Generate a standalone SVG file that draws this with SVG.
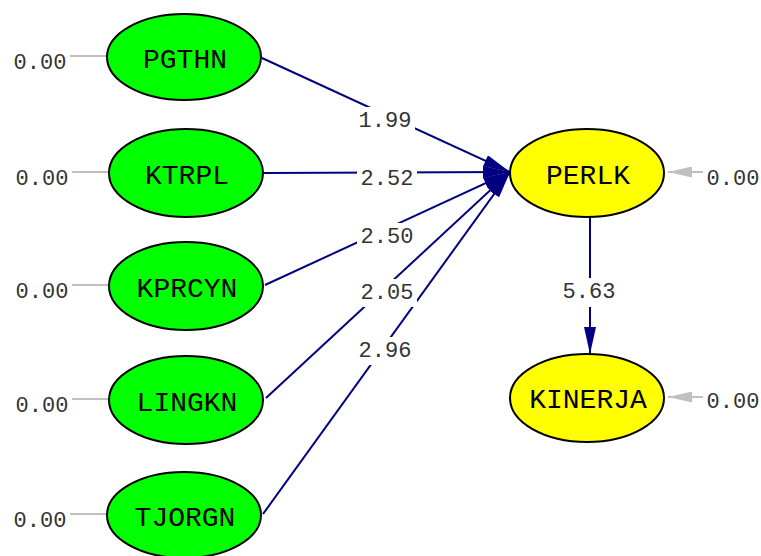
<svg xmlns="http://www.w3.org/2000/svg" width="761" height="556" viewBox="0 0 761 556">
<style>
.node ellipse{stroke:#000;stroke-width:2}
.exo{fill:#00ff00}
.endo{fill:#ffff00}
.nl{font-family:"Liberation Mono","Courier New",monospace;font-size:28px;fill:#000;text-anchor:middle}
.num{font-family:"Liberation Mono","Courier New",monospace;font-size:22px;fill:#333;text-anchor:middle}
.path{stroke:#000080;stroke-width:2;fill:none}
.err{stroke:#c0c0c0;stroke-width:2;fill:none}
.bg{fill:#fff}
</style>
<defs>
<marker id="ah" markerUnits="userSpaceOnUse" markerWidth="28" markerHeight="12" refX="27" refY="6" orient="auto"><path d="M0,0 L27,6 L0,12 Z" fill="#000080"/></marker>
<marker id="eh" markerUnits="userSpaceOnUse" markerWidth="25" markerHeight="11" refX="24" refY="5.5" orient="auto"><path d="M0,0 L24,5.5 L0,11 Z" fill="#c0c0c0"/></marker>
</defs>
<g id="connectors">
<line class="err" x1="70" y1="56" x2="107" y2="56"/>
<line class="err" x1="72" y1="172" x2="109" y2="172"/>
<line class="err" x1="72" y1="285" x2="109" y2="285"/>
<line class="err" x1="72" y1="399" x2="109" y2="399"/>
<line class="err" x1="70" y1="514" x2="107" y2="514"/>
<line class="err" x1="703" y1="172" x2="668" y2="172" marker-end="url(#eh)"/>
<line class="err" x1="703" y1="397" x2="668" y2="397" marker-end="url(#eh)"/>
<text class="num" x="40" y="69">0.00</text>
<text class="num" x="42" y="185">0.00</text>
<text class="num" x="42" y="298">0.00</text>
<text class="num" x="42" y="412">0.00</text>
<text class="num" x="40" y="527">0.00</text>
<text class="num" x="733" y="185">0.00</text>
<text class="num" x="733" y="408">0.00</text>
<line class="path" x1="262" y1="58" x2="510" y2="172" marker-end="url(#ah)"/>
<line class="path" x1="264" y1="173" x2="510" y2="172" marker-end="url(#ah)"/>
<line class="path" x1="265" y1="285" x2="510" y2="172" marker-end="url(#ah)"/>
<line class="path" x1="266" y1="398" x2="510" y2="172" marker-end="url(#ah)"/>
<line class="path" x1="263" y1="514" x2="510" y2="172" marker-end="url(#ah)"/>
<line class="path" x1="590" y1="217" x2="590" y2="354" marker-end="url(#ah)"/>
<rect class="bg" x="355" y="107" width="60" height="28"/>
<text class="num" x="385" y="127">1.99</text>
<rect class="bg" x="357" y="165" width="60" height="28"/>
<text class="num" x="387" y="185">2.52</text>
<rect class="bg" x="357" y="223" width="60" height="28"/>
<text class="num" x="387" y="243">2.50</text>
<rect class="bg" x="357" y="279" width="60" height="28"/>
<text class="num" x="387" y="299">2.05</text>
<rect class="bg" x="355" y="337" width="60" height="28"/>
<text class="num" x="385" y="357">2.96</text>
<rect class="bg" x="559" y="278" width="60" height="29"/>
<text class="num" x="589" y="298">5.63</text>
</g>
<g id="PGTHN" class="node"><ellipse class="exo" cx="184" cy="57" rx="77" ry="43"/><text class="nl" x="185" y="68">PGTHN</text></g>
<g id="KTRPL" class="node"><ellipse class="exo" cx="186" cy="173" rx="77" ry="44"/><text class="nl" x="187" y="184">KTRPL</text></g>
<g id="KPRCYN" class="node"><ellipse class="exo" cx="186" cy="286" rx="77" ry="44"/><text class="nl" x="187" y="297">KPRCYN</text></g>
<g id="LINGKN" class="node"><ellipse class="exo" cx="186" cy="400" rx="77" ry="44"/><text class="nl" x="187" y="411">LINGKN</text></g>
<g id="TJORGN" class="node"><ellipse class="exo" cx="184" cy="515" rx="77" ry="43"/><text class="nl" x="185" y="526">TJORGN</text></g>
<g id="PERLK" class="node"><ellipse class="endo" cx="587" cy="173" rx="77" ry="44"/><text class="nl" x="588" y="184">PERLK</text></g>
<g id="KINERJA" class="node"><ellipse class="endo" cx="587" cy="398" rx="77" ry="44"/><text class="nl" x="588" y="408">KINERJA</text></g>
</svg>
